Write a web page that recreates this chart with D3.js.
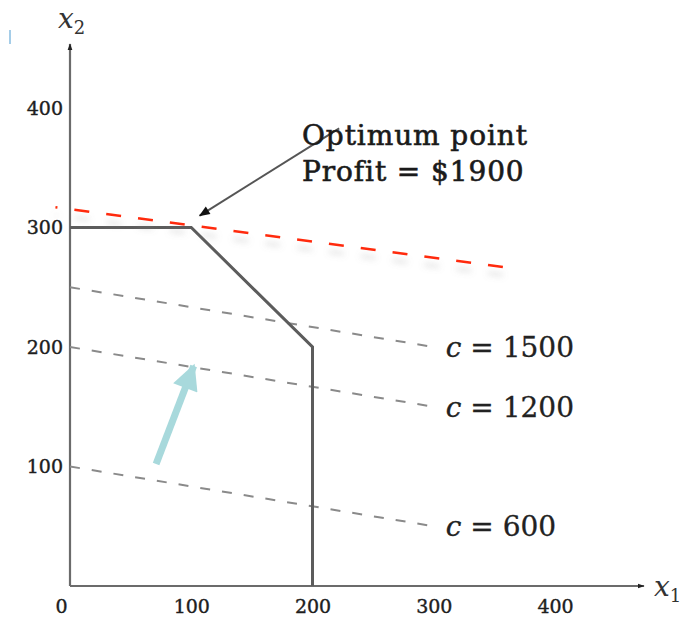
<!DOCTYPE html>
<html>
<head>
<meta charset="utf-8">
<script src="https://cdn.jsdelivr.net/npm/d3@7"></script>
<style>
  html, body { margin: 0; padding: 0; background: #fff; }
  svg { display: block; }
  text { font-family: "DejaVu Serif", "Liberation Serif", serif; }
</style>
</head>
<body>
<svg id="chart" width="692" height="622"></svg>
<script>
// Corner points of the feasible region (x1, x2)
const feasibleX1 = [0, 100, 200, 200];
const feasibleX2 = [300, 300, 200, 0];

// Iso-profit lines c = x1 + 6·x2
const profitLevels = [600, 1200, 1500];
const profitX1Range = [0, 298];

// Optimal iso-profit line through the optimum (drawn red)
const optimumLineX1 = [-12, 357];
const optimumLineX2 = [317, 267];
const optimum = { x1: 100, x2: 300, profit: 1900 };

// Axis ticks
const xTicks = [0, 100, 200, 300, 400];
const yTicks = [100, 200, 300, 400];

const svg = d3.select("#chart");
const x = d3.scaleLinear().domain([0, 400]).range([70, 555]);
const y = d3.scaleLinear().domain([0, 400]).range([586, 108]);

const defs = svg.append("defs");
defs.append("marker")
  .attr("id", "axisHead").attr("viewBox", "0 0 10 10")
  .attr("refX", 9).attr("refY", 5)
  .attr("markerWidth", 7).attr("markerHeight", 7)
  .attr("markerUnits", "userSpaceOnUse")
  .attr("orient", "auto")
  .append("path").attr("d", "M0,1.5 L10,5 L0,8.5 Z").attr("fill", "#222");
defs.append("marker")
  .attr("id", "noteHead").attr("viewBox", "0 0 10 10")
  .attr("refX", 9).attr("refY", 5)
  .attr("markerWidth", 15).attr("markerHeight", 11)
  .attr("markerUnits", "userSpaceOnUse")
  .attr("orient", "auto")
  .append("path").attr("d", "M0,1 L10,5 L0,9 Z").attr("fill", "#111");
defs.append("marker")
  .attr("id", "tealHead").attr("viewBox", "0 0 10 10")
  .attr("refX", 9).attr("refY", 5)
  .attr("markerWidth", 30).attr("markerHeight", 26)
  .attr("markerUnits", "userSpaceOnUse")
  .attr("orient", "auto")
  .append("path").attr("d", "M0,0 L10,5 L0,10 Z").attr("fill", "#a8d9dc");
const shadow = defs.append("filter").attr("id", "softShadow")
  .attr("x", "-10%").attr("y", "-50%").attr("width", "120%").attr("height", "300%");
shadow.append("feDropShadow")
  .attr("dx", 0).attr("dy", 8).attr("stdDeviation", 3)
  .attr("flood-color", "#888").attr("flood-opacity", 0.35);
const blur = defs.append("filter").attr("id", "soft");
blur.append("feGaussianBlur").attr("stdDeviation", 0.5);

// Axes with arrowheads
svg.append("line")
  .attr("x1", x(0)).attr("y1", y(0)).attr("x2", x(0)).attr("y2", 44)
  .attr("stroke", "#6b6b6b").attr("stroke-width", 2.2)
  .attr("marker-end", "url(#axisHead)");
svg.append("line")
  .attr("x1", x(0)).attr("y1", y(0)).attr("x2", 644).attr("y2", y(0))
  .attr("stroke", "#6b6b6b").attr("stroke-width", 2.2)
  .attr("marker-end", "url(#axisHead)");

// Tick labels via d3 axes (no ticks or domain lines drawn)
const xAxis = svg.append("g")
  .attr("transform", `translate(0,${y(0)})`)
  .call(d3.axisBottom(x).tickValues(xTicks).tickSize(0).tickPadding(14).tickFormat(d3.format("d")));
xAxis.select(".domain").remove();
xAxis.selectAll("text")
  .attr("font-family", "DejaVu Serif, serif").attr("font-size", 19).attr("fill", "#1e1e1e")
  .attr("stroke", "#1e1e1e").attr("stroke-width", 0.4)
  .attr("dx", d => d === 0 ? -9 : 0);

const yAxis = svg.append("g")
  .attr("transform", `translate(${x(0)},0)`)
  .call(d3.axisLeft(y).tickValues(yTicks).tickSize(0).tickPadding(7).tickFormat(d3.format("d")));
yAxis.select(".domain").remove();
yAxis.selectAll("text")
  .attr("font-family", "DejaVu Serif, serif").attr("font-size", 19).attr("fill", "#1e1e1e")
  .attr("stroke", "#1e1e1e").attr("stroke-width", 0.4);

// Axis titles
const x2Title = svg.append("text").attr("x", 58).attr("y", 28)
  .attr("font-size", 28).attr("font-style", "italic").attr("fill", "#333");
x2Title.append("tspan").text("x");
x2Title.append("tspan").attr("font-size", 18).attr("font-style", "normal").attr("dy", 6).text("2");
const x1Title = svg.append("text").attr("x", 654).attr("y", 596)
  .attr("font-size", 28).attr("font-style", "italic").attr("fill", "#333");
x1Title.append("tspan").text("x");
x1Title.append("tspan").attr("font-size", 18).attr("font-style", "normal").attr("dy", 6).text("1");

// Iso-profit dashed lines and their labels
const isoG = svg.append("g");
profitLevels.forEach(c => {
  const pts = profitX1Range.map(a => [a, (c - a) / 6]);
  isoG.append("line")
    .attr("x1", x(pts[0][0])).attr("y1", y(pts[0][1]))
    .attr("x2", x(pts[1][0])).attr("y2", y(pts[1][1]))
    .attr("stroke", "#8a8a8a").attr("stroke-width", 2)
    .attr("stroke-dasharray", "10,12")
    .attr("filter", "url(#soft)");
  const lbl = isoG.append("text")
    .attr("x", x(300) + 12).attr("y", y((c - 300) / 6) + 10)
    .attr("font-size", 28).attr("fill", "#222")
    .attr("stroke", "#222").attr("stroke-width", 0.3);
  lbl.append("tspan").attr("font-style", "italic").text("c");
  lbl.append("tspan").text(" = " + c);
});

// Feasible region boundary
const boundary = feasibleX1.map((a, i) => [a, feasibleX2[i]]);
svg.append("path")
  .attr("d", d3.line().x(d => x(d[0])).y(d => y(d[1]))(boundary))
  .attr("fill", "none").attr("stroke", "#5c5c5c").attr("stroke-width", 3)
  .attr("stroke-linejoin", "miter")
  .attr("filter", "url(#soft)");

// Optimal profit line (red dashed)
svg.append("line")
  .attr("x1", x(optimumLineX1[0])).attr("y1", y(optimumLineX2[0]))
  .attr("x2", x(optimumLineX1[1])).attr("y2", y(optimumLineX2[1]))
  .attr("stroke", "#ff2a0a").attr("stroke-width", 2.6)
  .attr("stroke-dasharray", "15,17.1").attr("stroke-dashoffset", 13)
  .attr("filter", "url(#softShadow)");

// Annotation pointing at the optimum
svg.append("line")
  .attr("x1", x(222)).attr("y1", y(383))
  .attr("x2", x(optimum.x1 + 7)).attr("y2", y(optimum.x2 + 10))
  .attr("stroke", "#555").attr("stroke-width", 2)
  .attr("marker-end", "url(#noteHead)");
const note = svg.append("text").attr("x", 302).attr("font-size", 28)
  .attr("letter-spacing", 0.9)
  .attr("fill", "#1a1a1a").attr("stroke", "#1a1a1a").attr("stroke-width", 0.6);
note.append("tspan").attr("x", 302).attr("y", 145).text("Optimum point");
note.append("tspan").attr("x", 302).attr("y", 181).text("Profit = $" + optimum.profit);

// Direction of increasing profit
svg.append("line")
  .attr("x1", x(71)).attr("y1", y(102))
  .attr("x2", x(102)).attr("y2", y(184))
  .attr("stroke", "#a8d9dc").attr("stroke-width", 7)
  .attr("marker-end", "url(#tealHead)");

// Small blue mark near the top-left corner
svg.append("rect").attr("x", 9).attr("y", 30).attr("width", 2).attr("height", 14)
  .attr("fill", "#a5cde8");
</script>
</body>
</html>
